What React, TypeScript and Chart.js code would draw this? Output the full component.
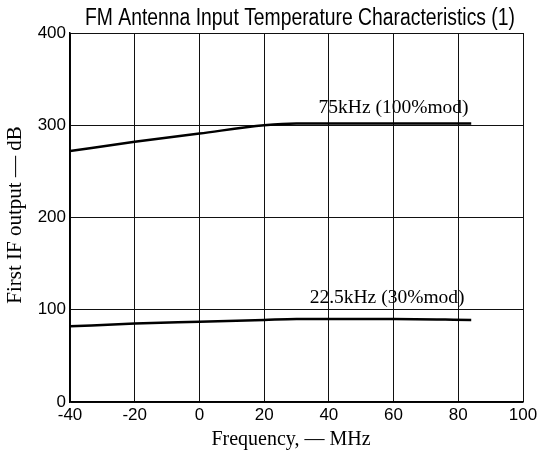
import React, { useEffect, useRef } from "react";
import { Chart, registerables } from "chart.js";

Chart.register(...registerables);

const titleText = "FM Antenna Input Temperature Characteristics (1)";
const xTitle = "Frequency, — MHz";
const yTitle = "First IF output — dB";

const freqs = [-40, -20, 0, 20, 30, 40, 60, 84];
const mod100 = [272, 282, 291, 300, 302, 302, 302, 302];
const mod30 = [82, 85, 87, 89, 90, 90, 90, 89];

const seriesNames = ["75kHz (100%mod)", "22.5kHz (30%mod)"];
// label anchor in data coordinates (x MHz, y dB)
const labelXs = [60, 58];
const labelYs = [313, 107];

export default function App() {
  const ref = useRef<HTMLCanvasElement | null>(null);
  useEffect(() => {
    document.body.style.margin = "0";
    const canvas = ref.current!;
    const textPlugin = {
      id: "texts",
      afterDraw(chart: any) {
        const ctx = chart.ctx;
        const xs = chart.scales.x;
        const ys = chart.scales.y;
        ctx.save();
        ctx.fillStyle = "#000";
        // title
        ctx.font = "23px 'Liberation Sans', Arial, sans-serif";
        const w = ctx.measureText(titleText).width;
        const target = 430;
        ctx.save();
        ctx.translate(300, 25);
        ctx.scale(target / w, 1);
        ctx.textAlign = "center";
        ctx.textBaseline = "alphabetic";
        ctx.fillText(titleText, 0, 0);
        ctx.restore();
        // series labels
        ctx.font = "19.5px 'Liberation Serif', 'Times New Roman', serif";
        ctx.textAlign = "center";
        ctx.textBaseline = "alphabetic";
        seriesNames.forEach((n, i) => {
          ctx.fillText(n, xs.getPixelForValue(labelXs[i]), ys.getPixelForValue(labelYs[i]));
        });
        // x title
        ctx.font = "20px 'Liberation Serif', 'Times New Roman', serif";
        ctx.textBaseline = "middle";
        ctx.fillText(xTitle, 291, 440);
        // y title
        ctx.font = "21px 'Liberation Serif', 'Times New Roman', serif";
        ctx.save();
        ctx.translate(15, 215);
        ctx.rotate(-Math.PI / 2);
        ctx.fillText(yTitle, 0, 0);
        ctx.restore();
        ctx.restore();
      },
    };
    const chart = new Chart(canvas, {
      type: "line",
      data: {
        labels: freqs,
        datasets: [
          {
            data: freqs.map((f, i) => ({ x: f, y: mod100[i] })),
            borderColor: "#000",
            borderWidth: 2.5,
            pointRadius: 0,
            cubicInterpolationMode: "monotone",
          },
          {
            data: freqs.map((f, i) => ({ x: f, y: mod30[i] })),
            borderColor: "#000",
            borderWidth: 2.5,
            pointRadius: 0,
            cubicInterpolationMode: "monotone",
          },
        ],
      },
      options: {
        animation: false,
        responsive: false,
        layout: { padding: { top: 33, right: 24, left: 0, bottom: 0 } },
        plugins: { legend: { display: false }, title: { display: false }, tooltip: { enabled: false } },
        scales: {
          x: {
            type: "linear",
            min: -40,
            max: 100,
            afterFit: (s: any) => {
              s.height = 49;
            },
            ticks: {
              stepSize: 20,
              color: "#000",
              padding: 3,
              maxRotation: 0,
              font: { family: "'Liberation Sans', Arial, sans-serif", size: 17 },
            },
            grid: { color: "#111", lineWidth: 1, drawTicks: false },
            border: { color: "#000", width: 1.5 },
          },
          y: {
            min: 0,
            max: 400,
            afterFit: (s: any) => {
              s.width = 70;
            },
            ticks: {
              stepSize: 100,
              color: "#000",
              padding: 4,
              font: { family: "'Liberation Sans', Arial, sans-serif", size: 17 },
            },
            grid: { color: "#111", lineWidth: 1, drawTicks: false },
            border: { color: "#000", width: 1.5 },
          },
        },
      },
      plugins: [textPlugin],
    } as any);
    return () => chart.destroy();
  }, []);
  return (
    <div style={{ width: 547, height: 451 }}>
      <canvas ref={ref} width={547} height={451} />
    </div>
  );
}
